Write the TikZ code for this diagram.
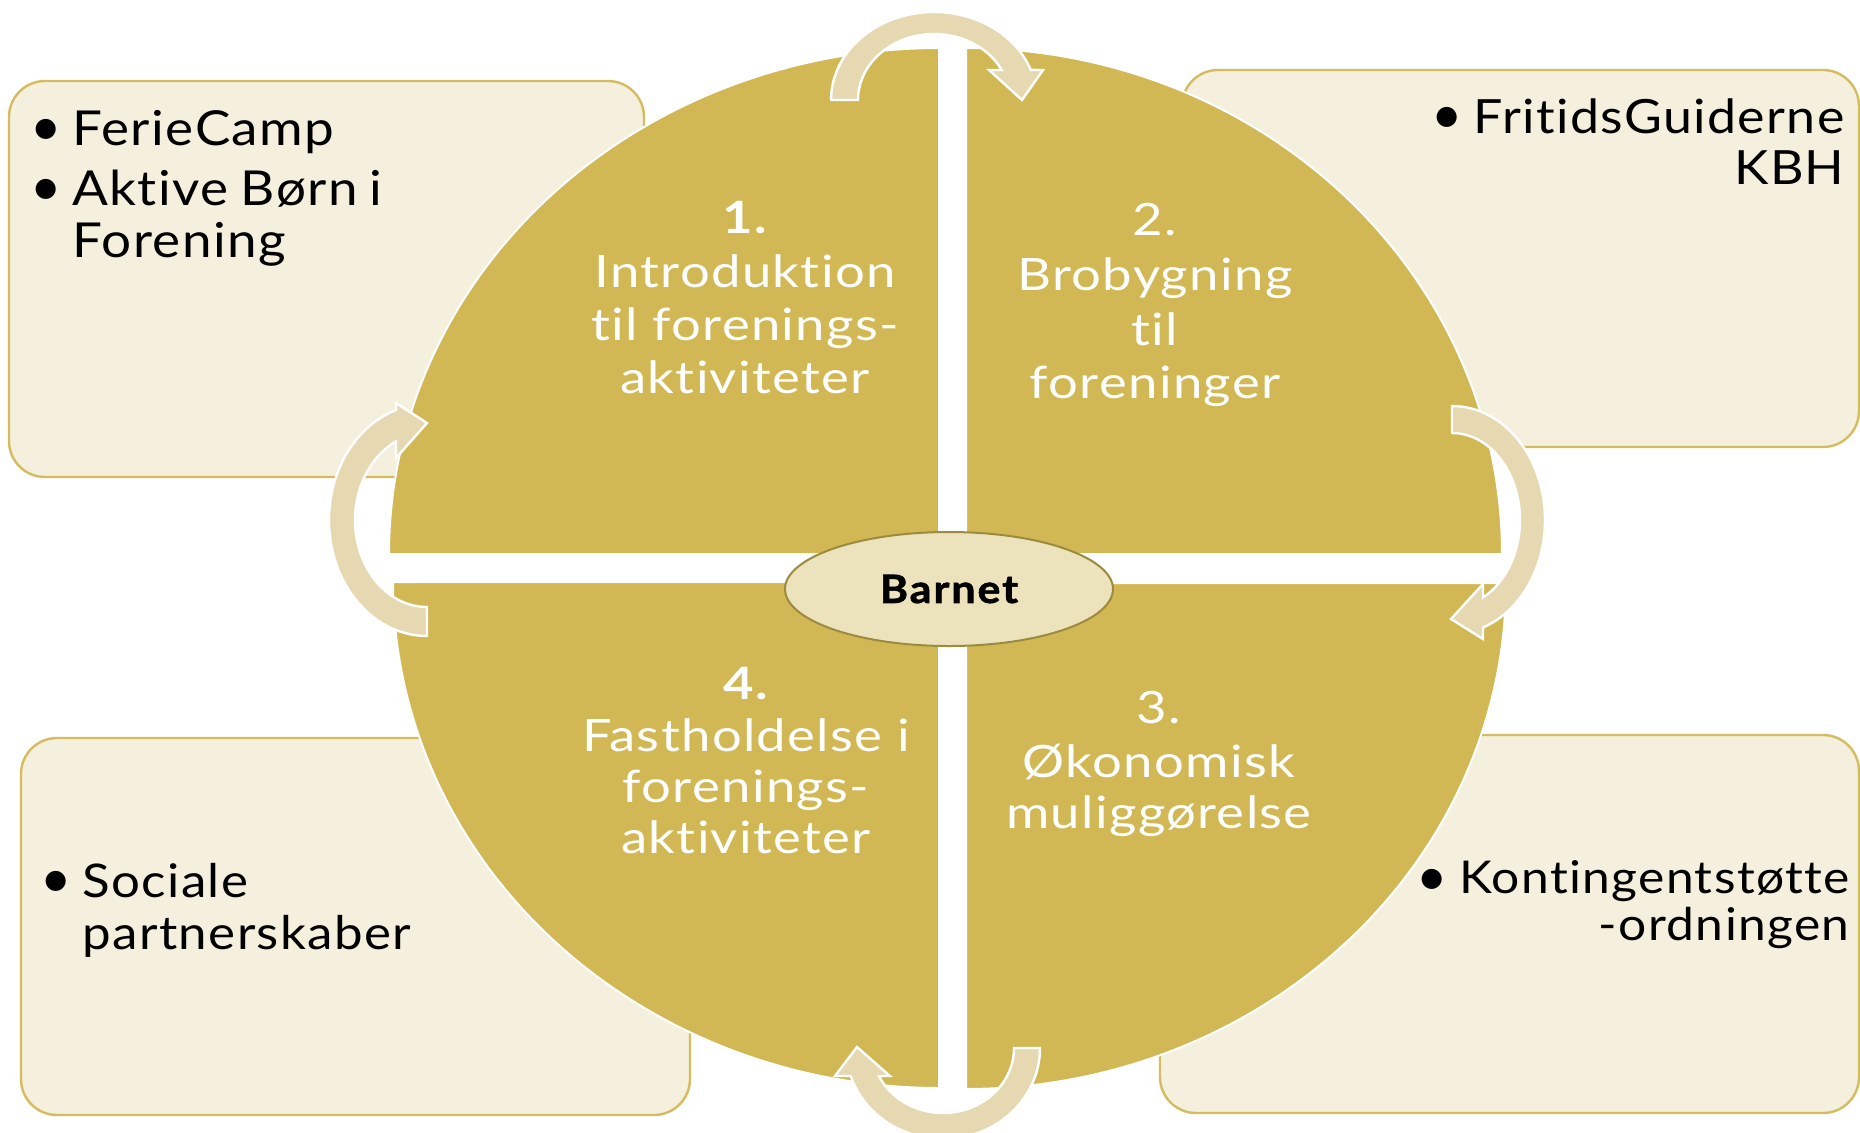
\documentclass[tikz,border=0pt]{standalone}
\usepackage{fontspec}
\setmainfont{Lato}[Ligatures=NoCommon]
\newfontfamily\qfont{Lato}[Ligatures=NoCommon,FakeStretch=1.18,LetterSpace=3]
\newfontfamily\bxfont{Lato}[Ligatures=NoCommon,FakeStretch=1.1,LetterSpace=3,WordSpace=0.8]
\newfontfamily\bnfont{Lato}[Ligatures=NoCommon,FakeStretch=1.1,LetterSpace=5,BoldFeatures={FakeBold=1.5}]
\usetikzlibrary{shapes.geometric}
\definecolor{gold}{RGB}{210,184,84}
\definecolor{boxfill}{RGB}{245,240,221}
\definecolor{boxline}{RGB}{212,188,95}
\definecolor{arrowfill}{RGB}{230,217,178}
\definecolor{ellfill}{RGB}{236,226,188}
\definecolor{ellline}{RGB}{156,139,62}
\begin{document}
\begin{tikzpicture}[x=0.5pt,y=-0.5pt,
  box/.style={fill=boxfill, draw=boxline, line width=1.2pt, rounded corners=18pt},
  quad/.style={fill=gold, draw=white, line width=1pt},
  cyc/.style={fill=arrowfill, draw=white, line width=1.2pt, line join=miter},
  qt/.style={text=white, inner sep=0pt, anchor=base, font=\qfont\fontsize{22.3}{26}\selectfont},
  qn/.style={qt, font=\qfont\bfseries\fontsize{22.3}{26}\selectfont},
  bt/.style={text=black, inner sep=0pt, font={\bxfont\fontsize{#1}{#1}\selectfont}},
  bul/.style={text=black, inner sep=0pt, anchor=center, font=\fontsize{27}{27}\selectfont}
]
\fill[white] (0,0) rectangle (1860,1132);
\useasboundingbox (0,0) rectangle (1860,1132);
\clip (0,0) rectangle (1860,1132);

% corner boxes
\path[box] (9,81) rectangle (644,477);
\path[box] (1182,70) rectangle (1859,447);
\path[box] (21,738) rectangle (690,1115);
\path[box] (1160,735) rectangle (1859,1113);

% quadrants
\path[quad] (939,554) -- plot[domain=180:270,samples=90] ({939+550*cos(\x)},{554+506*sin(\x)}) -- cycle;
\path[quad] (966,554) -- plot[domain=270:360,samples=90] ({966+536*cos(\x)},{554+506*sin(\x)}) -- cycle;
\path[quad] (966,583) -- plot[domain=0:90,samples=90] ({966+540*cos(\x)},{583+506*sin(\x)}) -- cycle;
\path[quad] (939,582) -- plot[domain=90:180,samples=90] ({939+546*cos(\x)},{582+506*sin(\x)}) -- cycle;

% circular arrows
\path[cyc] plot[domain=180:340,samples=60] ({934+103*cos(\x)},{100+88*sin(\x)})
  -- (1043,70) -- (1022,100) -- (989,70)
  -- plot[domain=180:333,samples=60] ({934+76*cos(513-\x)},{100+66*sin(513-\x)}) -- cycle;
\path[cyc] plot[domain=270:430.5,samples=60] ({1452+93*cos(\x)},{520+114*sin(\x)})
  -- (1483,639) -- (1451,619) -- (1483,584)
  -- plot[domain=270:422.9,samples=60] ({1452+68*cos(692.9-\x)},{520+87*sin(692.9-\x)}) -- cycle;
\path[cyc] plot[domain=90:251.6,samples=60] ({427+98*cos(\x)},{520+116*sin(\x)})
  -- (396,403) -- (427,423) -- (396,458)
  -- plot[domain=90:244.5,samples=60] ({427+72*cos(334.5-\x)},{520+87*sin(334.5-\x)}) -- cycle;
\path[cyc] plot[domain=0:162.1,samples=60] ({943+97*cos(\x)},{1048+91*sin(\x)})
  -- (835,1076) -- (857,1047) -- (890,1076)
  -- plot[domain=0:154.5,samples=60] ({943+71*cos(154.5-\x)},{1048+65*sin(154.5-\x)}) -- cycle;

% centre
\node[ellipse, fill=ellfill, draw=ellline, line width=1pt, minimum width=164pt, minimum height=57pt,
  inner sep=0pt, font=\bnfont\bfseries\fontsize{19.5}{20}\selectfont] (barnet) at (949,589) {Barnet};

% quadrant texts
\node[qn] (q1n) at (745,233) {1.};
\node[qt] (q1a) at (745,287) {Introduktion};
\node[qt] (q1b) at (745,340) {til forenings-};
\node[qt] (q1c) at (745,393) {aktiviteter};

\node[qt] (q2n) at (1155,235) {2.};
\node[qt] (q2a) at (1155,290) {Brobygning};
\node[qt] (q2b) at (1155,345) {til};
\node[qt] (q2c) at (1155,398) {foreninger};

\node[qt] (q3n) at (1159,723) {3.};
\node[qt] (q3a) at (1159,777) {Økonomisk};
\node[qt] (q3b) at (1159,828) {muliggørelse};

\node[qn] (q4n) at (746,699) {4.};
\node[qt] (q4a) at (746,751) {Fastholdelse i};
\node[qt] (q4b) at (746,802) {forenings-};
\node[qt] (q4c) at (746,853) {aktiviteter};

% box texts
\node[bul] (tlb1) at (46,132) {\textbullet};
\node[bul] (tlb2) at (46,192) {\textbullet};
\node[bt=24.1, anchor=base west] (tl1) at (72,145) {FerieCamp};
\node[bt=24.1, anchor=base west] (tl2) at (72,205) {Aktive Børn i};
\node[bt=24.1, anchor=base west] (tl3) at (72,257) {Forening};

\node[bul] (trb1) at (1447,120) {\textbullet};
\node[bt=23.6, anchor=base east] (tr1) at (1845,133) {FritidsGuiderne};
\node[bt=23.6, anchor=base east] (tr2) at (1845,184) {KBH};

\node[bul] (blb1) at (56,884) {\textbullet};
\node[bt=23.2, anchor=base west] (bl1) at (82,897) {Sociale};
\node[bt=23.2, anchor=base west] (bl2) at (82,949) {partnerskaber};

\node[bul] (brb1) at (1432,882) {\textbullet};
\node[bt=22.6, anchor=base east] (br1) at (1850,893) {Kontingentstøtte};
\node[bt=22.6, anchor=base east] (br2) at (1850,940) {-ordningen};
\end{tikzpicture}
\end{document}
